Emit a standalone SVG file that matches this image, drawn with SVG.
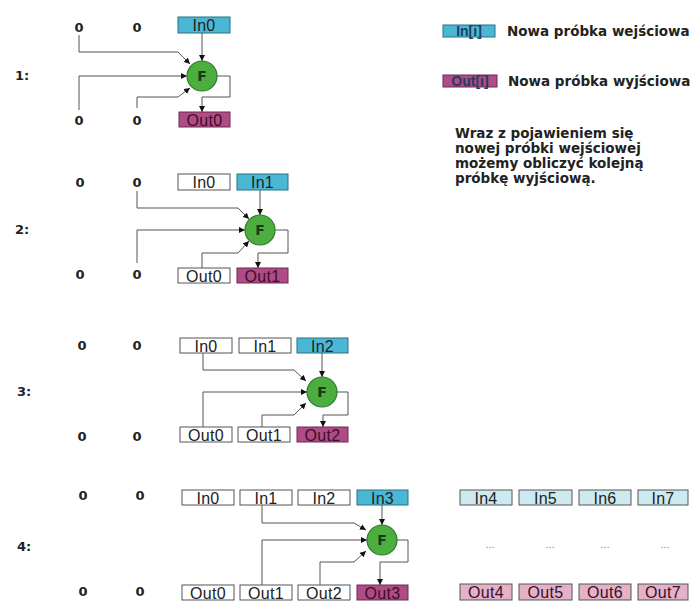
<svg xmlns="http://www.w3.org/2000/svg" width="690" height="601" viewBox="0 0 690 601">
<defs>
<marker id="ah" viewBox="0 0 10 10" refX="10" refY="5" markerWidth="6" markerHeight="6" orient="auto" markerUnits="userSpaceOnUse">
<path d="M0,0 L10,5 L0,10 z" fill="#111"/>
</marker>
<style>
.bx{fill:#fff;stroke:#555;stroke-width:1}
.in{fill:#4ab8d4;stroke:#2a6f80;stroke-width:1}
.out{fill:#b04b86;stroke:#6a2a50;stroke-width:1}
.inl{fill:#cdeaf0;stroke:#555;stroke-width:1}
.outl{fill:#e3b1c8;stroke:#555;stroke-width:1}
.bt{font-family:"Liberation Sans",Arial,sans-serif;font-size:16px;letter-spacing:0.3px;fill:#222;text-anchor:middle}
.ot{fill:#3a0f2a}
.z{font-family:"DejaVu Sans",Verdana,sans-serif;font-size:13px;font-weight:bold;fill:#222;text-anchor:middle}
.f{fill:#4cae3f;stroke:#2d7a2d;stroke-width:1.2}
.ft{font-family:"DejaVu Sans",Verdana,sans-serif;font-size:14px;font-weight:bold;fill:#1a3a1a;text-anchor:middle}
.ca{fill:none;stroke:#555;stroke-width:1;marker-end:url(#ah)}
.lg{font-family:"DejaVu Sans",Verdana,sans-serif;font-size:13.5px;font-weight:bold;fill:#222}
.lt{font-family:"Liberation Sans",Arial,sans-serif;font-size:14px;font-weight:bold;fill:#1d3f66;text-anchor:middle}
.dots{font-family:"Liberation Sans",Arial,sans-serif;font-size:11px;fill:#888;text-anchor:middle}
</style>
</defs>

<!-- legend -->
<g id="legend">
<rect x="443" y="25" width="52" height="12" class="in"/>
<text x="469" y="36" class="lt">In[i]</text>
<text x="507" y="36" class="lg">Nowa próbka wejściowa</text>
<rect x="443" y="75" width="54" height="12" class="out"/>
<text x="470" y="86" class="lt ot">Out[i]</text>
<text x="508" y="86" class="lg">Nowa próbka wyjściowa</text>
<text class="lg" font-size="13.3">
<tspan x="455" y="138">Wraz z pojawieniem się</tspan>
<tspan x="455" y="153">nowej próbki wejściowej</tspan>
<tspan x="455" y="168">możemy obliczyć kolejną</tspan>
<tspan x="455" y="183">próbkę wyjściową.</tspan>
</text>
</g>

<!-- row labels -->
<g id="labels">
<text x="22" y="80" class="z">1:</text>
<text x="22" y="234" class="z">2:</text>
<text x="24" y="396" class="z">3:</text>
<text x="24" y="551" class="z">4:</text>
<text x="79" y="32" class="z">0</text><text x="137" y="32" class="z">0</text>
<text x="79" y="125" class="z">0</text><text x="137" y="125" class="z">0</text>
<text x="80" y="187" class="z">0</text><text x="137" y="187" class="z">0</text>
<text x="80" y="279" class="z">0</text><text x="137" y="279" class="z">0</text>
<text x="82" y="350" class="z">0</text><text x="137" y="350" class="z">0</text>
<text x="82" y="441" class="z">0</text><text x="137" y="441" class="z">0</text>
<text x="83" y="500" class="z">0</text><text x="140" y="500" class="z">0</text>
<text x="83" y="596" class="z">0</text><text x="140" y="596" class="z">0</text>
</g>

<!-- connectors -->
<g id="connectors">
<!-- row 1 -->
<path class="ca" d="M79,35 V52 H178 L190,64"/>
<path class="ca" d="M79,110 V76 H187"/>
<path class="ca" d="M137,108 V97 H178 L190,88"/>
<path class="ca" d="M202,33 V61"/>
<path class="ca" d="M217,76 H230 V97 H202 V112"/>
<!-- row 2 -->
<path class="ca" d="M137,191 V208 H238 L249,219"/>
<path class="ca" d="M137,263 V230 H245"/>
<path class="ca" d="M202,268 V253 H238 L249,241"/>
<path class="ca" d="M260,190 V215"/>
<path class="ca" d="M275,230 H288 V253 H258 V268"/>
<!-- row 3 -->
<path class="ca" d="M203,353 V370 H294 L306,381"/>
<path class="ca" d="M203,427 V392 H307"/>
<path class="ca" d="M262,427 V415 H294 L306,403"/>
<path class="ca" d="M322,353 V377"/>
<path class="ca" d="M337,392 H348 V415 H323 V427"/>
<!-- row 4 -->
<path class="ca" d="M262,505 V523 H354 L366,530"/>
<path class="ca" d="M262,585 V540 H367"/>
<path class="ca" d="M320,585 V562 H354 L366,551"/>
<path class="ca" d="M382,505 V525"/>
<path class="ca" d="M397,540 H408 V562 H380 V585"/>
</g>

<!-- row 1 -->
<g id="r1-in0"><rect x="178" y="17" width="52" height="16" class="in"/><text x="204" y="31" class="bt">In0</text></g>
<g id="r1-f"><circle cx="202" cy="76" r="15" class="f"/><text x="202" y="81" class="ft">F</text></g>
<g id="r1-out0"><rect x="179" y="112" width="51" height="15" class="out"/><text x="204.5" y="126" class="bt ot">Out0</text></g>

<!-- row 2 -->
<g id="r2-in0"><rect x="178" y="174" width="52" height="16" class="bx"/><text x="204" y="188" class="bt">In0</text></g>
<g id="r2-in1"><rect x="237" y="174" width="51" height="16" class="in"/><text x="262.5" y="188" class="bt">In1</text></g>
<g id="r2-f"><circle cx="260" cy="230" r="15" class="f"/><text x="260" y="235" class="ft">F</text></g>
<g id="r2-out0"><rect x="178" y="268" width="52" height="15" class="bx"/><text x="204" y="282" class="bt">Out0</text></g>
<g id="r2-out1"><rect x="237" y="268" width="51" height="15" class="out"/><text x="262.5" y="282" class="bt ot">Out1</text></g>

<!-- row 3 -->
<g id="r3-in0"><rect x="180" y="338" width="52" height="15" class="bx"/><text x="206" y="352" class="bt">In0</text></g>
<g id="r3-in1"><rect x="239" y="338" width="52" height="15" class="bx"/><text x="265" y="352" class="bt">In1</text></g>
<g id="r3-in2"><rect x="297" y="338" width="51" height="15" class="in"/><text x="322.5" y="352" class="bt">In2</text></g>
<g id="r3-f"><circle cx="322" cy="392" r="15" class="f"/><text x="322" y="397" class="ft">F</text></g>
<g id="r3-out0"><rect x="180" y="427" width="52" height="15" class="bx"/><text x="206" y="441" class="bt">Out0</text></g>
<g id="r3-out1"><rect x="238" y="427" width="52" height="15" class="bx"/><text x="264" y="441" class="bt">Out1</text></g>
<g id="r3-out2"><rect x="297" y="427" width="51" height="15" class="out"/><text x="322.5" y="441" class="bt ot">Out2</text></g>

<!-- row 4 -->
<g id="r4-in0"><rect x="182" y="490" width="52" height="15" class="bx"/><text x="208" y="504" class="bt">In0</text></g>
<g id="r4-in1"><rect x="240" y="490" width="52" height="15" class="bx"/><text x="266" y="504" class="bt">In1</text></g>
<g id="r4-in2"><rect x="298" y="490" width="52" height="15" class="bx"/><text x="324" y="504" class="bt">In2</text></g>
<g id="r4-in3"><rect x="357" y="490" width="51" height="15" class="in"/><text x="382.5" y="504" class="bt">In3</text></g>
<g id="r4-f"><circle cx="382" cy="540" r="15" class="f"/><text x="382" y="545" class="ft">F</text></g>
<g id="r4-out0"><rect x="182" y="585" width="52" height="15" class="bx"/><text x="208" y="599" class="bt">Out0</text></g>
<g id="r4-out1"><rect x="240" y="585" width="52" height="15" class="bx"/><text x="266" y="599" class="bt">Out1</text></g>
<g id="r4-out2"><rect x="298" y="585" width="52" height="15" class="bx"/><text x="324" y="599" class="bt">Out2</text></g>
<g id="r4-out3"><rect x="357" y="585" width="51" height="15" class="out"/><text x="382.5" y="599" class="bt ot">Out3</text></g>

<!-- future samples -->
<g id="in4"><rect x="460" y="490" width="52" height="15" class="inl"/><text x="486" y="504" class="bt">In4</text></g>
<g id="in5"><rect x="519" y="490" width="53" height="15" class="inl"/><text x="545.5" y="504" class="bt">In5</text></g>
<g id="in6"><rect x="579" y="490" width="52" height="15" class="inl"/><text x="605" y="504" class="bt">In6</text></g>
<g id="in7"><rect x="638" y="490" width="50" height="15" class="inl"/><text x="663" y="504" class="bt">In7</text></g>
<g id="dots">
<text x="490" y="548" class="dots">...</text>
<text x="550" y="548" class="dots">...</text>
<text x="605" y="548" class="dots">...</text>
<text x="665" y="548" class="dots">...</text>
</g>
<g id="out4"><rect x="460" y="584" width="52" height="16" class="outl"/><text x="486" y="598" class="bt ot">Out4</text></g>
<g id="out5"><rect x="519" y="584" width="53" height="16" class="outl"/><text x="545.5" y="598" class="bt ot">Out5</text></g>
<g id="out6"><rect x="579" y="584" width="52" height="16" class="outl"/><text x="605" y="598" class="bt ot">Out6</text></g>
<g id="out7"><rect x="638" y="584" width="50" height="16" class="outl"/><text x="663" y="598" class="bt ot">Out7</text></g>
</svg>
